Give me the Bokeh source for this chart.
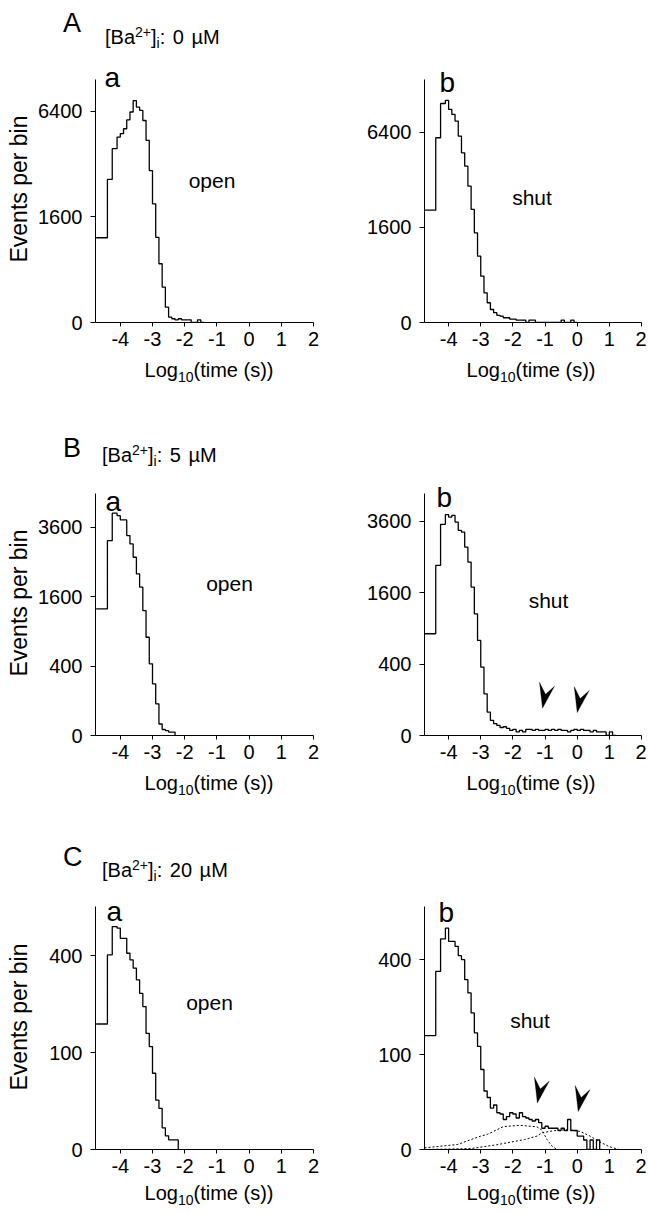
import numpy as np
from bokeh.plotting import figure
from bokeh.layouts import column, row
from bokeh.models import Label, PolyAnnotation, FixedTicker, Range1d, Div
from bokeh.embed import file_html
from bokeh.resources import INLINE

FONT = "Liberation Sans"

# ---------------- data ----------------
# log10(time) bin edges: three wide leading bins, then 0.1-wide bins
LEAD_EDGES = [-4.75, -4.4, -4.25, -4.1]
BIN_WIDTH = 0.1

X_TICKS = [-4, -3, -2, -1, 0, 1, 2]
X_TICK_LABELS = ["-4", "-3", "-2", "-1", "0", "1", "2"]

A_Y_TICKS = [0, 1600, 6400]
B_Y_TICKS = [0, 400, 1600, 3600]
C_Y_TICKS = [0, 100, 400]

# events per bin (square-root ordinate)
A_OPEN = [1030, 2935, 4330, 4930, 5110, 5380, 5890, 6350, 7060, 6650, 6450,
          5850, 4750, 3310, 2020, 1040, 495, 179, 34, 4, 2, 1, 2, 1, 1, 1,
          0, 0, 1, 0]
A_SHUT = [2237, 6050, 8500, 8740, 8045, 7670, 7190, 6160, 5100, 4330, 3295,
          2265, 1425, 780, 380, 156, 69, 30, 17, 9, 7, 4, 4, 2, 2, 1, 1, 1,
          0, 1, 1, 0, 0, 0, 0, 0, 0, 0, 0, 1, 0, 0, 1, 0]
B_OPEN = [1330, 3150, 4100, 4010, 3855, 3855, 3315, 3045, 2635, 2165, 1825,
          1295, 801, 426, 221, 83, 11, 3, 2, 1, 1]
B_SHUT = [810, 2263, 3490, 3815, 3733, 3790, 3564, 3290, 3240, 2778, 2353,
          1723, 1159, 707, 366, 136, 43, 18, 11, 8, 5, 6, 4, 2, 3, 1, 2, 1,
          3, 3, 2, 3, 2, 2, 3, 2, 3, 2, 3, 2, 2, 1, 2, 3, 2, 3, 2, 2, 1, 2,
          1, 1, 1, 0, 1, 0]
C_OPEN = [168, 404, 530, 523, 476, 476, 411, 384, 351, 307, 260, 218, 144,
          113, 62, 26, 18, 5, 2, 1, 1, 1]
C_SHUT = [144, 352, 492, 544, 481, 481, 458, 417, 400, 320, 272, 207, 151,
          118, 71, 38, 30, 19, 22, 15, 14, 10, 12, 15, 14, 11, 15, 12, 11,
          10, 9, 10, 8, 5, 6, 5, 5, 5, 4, 5, 4, 10, 4, 4, 2, 2, 1, 0, 1, 0, 1]

# fitted components drawn dotted in C b (events per bin)
C_SHUT_FIT1_X = [-4.75, -3.72, -3.3, -3.0, -2.8, -2.3, -1.8, -1.25, -1.09, -0.94, -0.78, -0.63]
C_SHUT_FIT1_Y = [0.03, 0.28, 1.1, 2.0, 2.5, 5.8, 6.5, 5.7, 4.1, 1.1, 0.12, 0.0]
C_SHUT_FIT2_X = [-4.75, -3.3, -2.5, -1.64, -1.25, -1.1, -0.7, -0.3, 0.1, 0.4, 0.7, 1.0, 1.3]
C_SHUT_FIT2_Y = [0.0, 0.01, 0.25, 1.1, 2.0, 3.1, 4.0, 4.4, 3.6, 2.0, 0.64, 0.09, 0.0]

# arrowhead tips (log10 time, events per bin)
B_SHUT_ARROW_X = [-1.08, 0.0]
B_SHUT_ARROW_Y = [58, 41]
C_SHUT_ARROW_X = [-1.24, 0.03]
C_SHUT_ARROW_Y = [24, 16]

ROW_LETTERS = ["A", "B", "C"]
CONCENTRATIONS = ["0", "5", "20"]

# ---------------- layout geometry (page pixels) ----------------
PAGE_W = 646
BOTTOM_BORDER = 34
# row key: (figure top, axis top, axis bottom)
ROW_Y = {"A": (55, 79, 322), "B": (470, 493, 735), "C": (884, 906, 1149)}
# side: (left border, frame width, right border, x start)
SIDE_GEOM = {"left": (95, 218, 17, -4.77), "right": (94, 217, 5, -4.75)}
ARROW_SHAPE_PX = [(0, 0), (12, 22), (3, 14), (-3, 26)]


def bin_edges(n):
    e = list(LEAD_EDGES)
    while len(e) < n + 1:
        e.append(round(e[-1] + BIN_WIDTH, 2))
    return e[:n + 1]


def add_text(p, text, x, y, size, align="left", baseline="alphabetic"):
    p.add_layout(Label(x=x, y=y, x_units="screen", y_units="screen", text=text,
                       text_font=FONT, text_font_size=f"{size}px",
                       text_align=align, text_baseline=baseline,
                       text_color="black"))


def make_panel(row_key, side, counts, y_ticks, y_top, sub, kind, sub_pos, kind_pos,
               ylabel_standoff=3):
    fig_top, ax_top, ax_bot = ROW_Y[row_key]
    fh = ax_bot - fig_top
    ah = ax_bot - ax_top
    bl, fw, br, x0 = SIDE_GEOM[side]
    y_end = y_top * fh / ah
    p = figure(frame_width=fw, frame_height=fh,
               min_border_left=bl, min_border_right=br,
               min_border_top=0, min_border_bottom=BOTTOM_BORDER,
               x_range=Range1d(x0, 2.0), y_range=Range1d(0, y_end),
               output_backend="svg", toolbar_location=None)
    p.outline_line_color = None
    p.xgrid.visible = False
    p.ygrid.visible = False
    p.background_fill_color = "white"
    p.border_fill_color = "white"

    edges = bin_edges(len(counts))
    ys = [float(v) for v in np.sqrt(counts)] + [0.0]
    p.step(x=edges, y=ys, mode="after", line_color="black", line_width=1.3)

    xa = p.xaxis[0]
    xa.ticker = FixedTicker(ticks=X_TICKS)
    xa.major_label_overrides = {float(t): s for t, s in zip(X_TICKS, X_TICK_LABELS)}
    ya = p.yaxis[0]
    yt = [float(np.sqrt(v)) for v in y_ticks]
    ya.ticker = FixedTicker(ticks=yt)
    ya.major_label_overrides = {t: str(v) for t, v in zip(yt, y_ticks)}
    ya.bounds = (0, y_top)
    for ax, tout, stand in ((xa, 4, 5), (ya, 5, 8)):
        ax.axis_line_color = "black"
        ax.axis_line_width = 1
        ax.major_tick_line_color = "black"
        ax.major_tick_out = tout
        ax.major_tick_in = 0
        ax.minor_tick_line_color = None
        ax.major_label_text_font = FONT
        ax.major_label_text_font_size = "20px"
        ax.major_label_text_color = "black"
        ax.major_label_standoff = stand
    if side == "left":
        ya.axis_label = "Events per bin"
        ya.axis_label_text_font = FONT
        ya.axis_label_text_font_size = "23px"
        ya.axis_label_text_font_style = "normal"
        ya.axis_label_text_color = "black"
        ya.axis_label_standoff = ylabel_standoff

    add_text(p, sub, sub_pos[0], sub_pos[1], 28)
    add_text(p, kind, kind_pos[0], kind_pos[1], 21, align="center", baseline="middle")
    return p


def add_arrows(p, xs, counts, row_key):
    fig_top, ax_top, ax_bot = ROW_Y[row_key]
    bl, fw, br, x0 = SIDE_GEOM["right"]
    kx = fw / (2.0 - x0)
    ky = (ax_bot - fig_top) / p.y_range.end
    for x, c in zip(xs, counts):
        s = float(np.sqrt(c))
        px = [x + dx / kx for dx, dy in ARROW_SHAPE_PX]
        py = [s + dy / ky for dx, dy in ARROW_SHAPE_PX]
        p.add_layout(PolyAnnotation(xs=px, ys=py, xs_units="data", ys_units="data",
                                    fill_color="black", fill_alpha=1.0,
                                    line_color="black", line_width=1))


# ---------------- HTML text strips (headers and x-axis titles) ----------------
def span_at(x, baseline, size, html, center=False, spacing=0):
    top = baseline - 0.8465 * size
    base = (f'top:{top:.1f}px;font-size:{size}px;line-height:{size}px;'
            f'white-space:nowrap;word-spacing:{spacing}px;')
    if center:
        return (f'<div style="position:absolute;left:{x - 150:.1f}px;width:300px;'
                f'text-align:center;{base}">{html}</div>')
    return f'<div style="position:absolute;left:{x:.1f}px;{base}">{html}</div>'


def ba_html(conc):
    return ('[Ba<span style="font-size:14px;position:relative;top:-7px;">2+</span>]'
            '<span style="font-size:14px;position:relative;top:4px;">i</span>'
            f': {conc} µM')


XLABEL_HTML = ('Log<span style="font-size:14px;position:relative;top:5px;">10</span>'
               '(time (s))')


def strip(top, height, items):
    inner = "".join(span_at(x, b - top, s, h, c, sp) for x, b, s, h, c, sp in items)
    html = (f'<div style="position:relative;width:{PAGE_W}px;height:{height}px;'
            f'font-family:\'{FONT}\';color:black;">{inner}</div>')
    return Div(text=html, width=PAGE_W, height=height, margin=0)


def header_items(i, letter_base, ba_x, ba_base):
    return [(63, letter_base, 27, ROW_LETTERS[i], False, 0),
            (ba_x, ba_base, 20, ba_html(CONCENTRATIONS[i]), False, 2)]


def xlabel_items(base):
    return [(209, base, 20, XLABEL_HTML, True, 0), (531, base, 20, XLABEL_HTML, True, 0)]


pAa = make_panel("A", "left", A_OPEN, A_Y_TICKS, 92.0, "a", "open", (9, 245), (116.5, 142))
pAb = make_panel("A", "right", A_SHUT, A_Y_TICKS, 102.3, "b", "shut", (15, 240), (107.5, 125))
pBa = make_panel("B", "left", B_OPEN, B_Y_TICKS, 69.7, "a", "open", (10, 234), (134, 152))
pBb = make_panel("B", "right", B_SHUT, B_Y_TICKS, 67.7, "b", "shut", (12, 238), (124, 135))
pCa = make_panel("C", "left", C_OPEN, C_Y_TICKS, 25.1, "a", "open", (11, 238), (114, 147),
                 ylabel_standoff=14)
pCb = make_panel("C", "right", C_SHUT, C_Y_TICKS, 25.6, "b", "shut", (14, 237), (105.5, 129))

pCb.line(C_SHUT_FIT1_X, [float(v) for v in np.sqrt(C_SHUT_FIT1_Y)], line_color="black",
         line_width=1, line_dash="2 2")
pCb.line(C_SHUT_FIT2_X, [float(v) for v in np.sqrt(C_SHUT_FIT2_Y)], line_color="black",
         line_width=1, line_dash="2 2")

add_arrows(pBb, B_SHUT_ARROW_X, B_SHUT_ARROW_Y, "B")
add_arrows(pCb, C_SHUT_ARROW_X, C_SHUT_ARROW_Y, "C")

rowA_end = ROW_Y["A"][2] + BOTTOM_BORDER
rowB_end = ROW_Y["B"][2] + BOTTOM_BORDER
rowC_end = ROW_Y["C"][2] + BOTTOM_BORDER

d1 = strip(0, ROW_Y["A"][0], header_items(0, 33, 105, 44))
d2 = strip(rowA_end, ROW_Y["B"][0] - rowA_end,
           xlabel_items(377) + header_items(1, 458, 102, 462))
d3 = strip(rowB_end, ROW_Y["C"][0] - rowB_end,
           xlabel_items(790) + header_items(2, 867, 102, 877))
d4 = strip(rowC_end, 1210 - rowC_end, xlabel_items(1200))

layout = column(d1, row(pAa, pAb), d2, row(pBa, pBb), d3, row(pCa, pCb), d4)

with open("out.html", "w") as f:
    f.write(file_html(layout, INLINE))
